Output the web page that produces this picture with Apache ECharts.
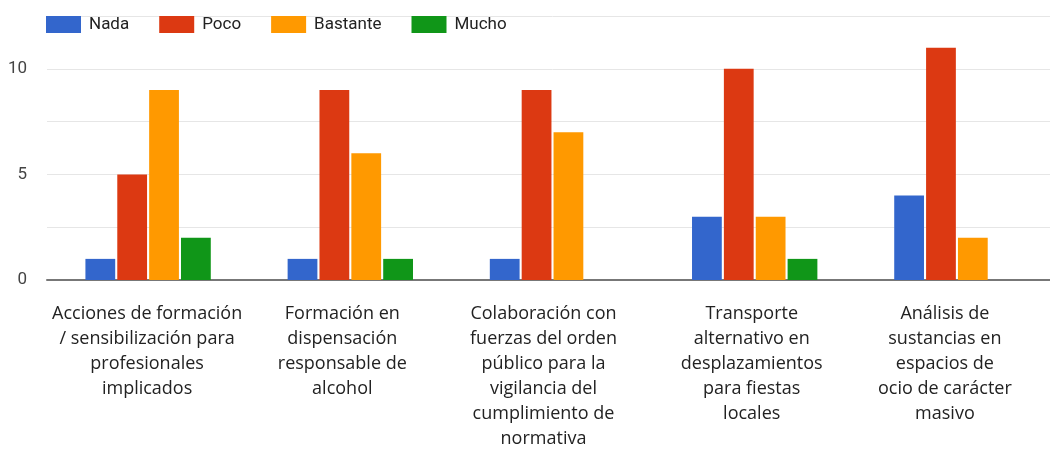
<!DOCTYPE html>
<html>
<head>
<meta charset="utf-8">
<script src="https://cdn.jsdelivr.net/npm/echarts@6/dist/echarts.min.js"></script>
<style>
  html, body { margin: 0; padding: 0; background: #fff; overflow: hidden; }
  /* a bit wider than the window: the last category runs past the right edge */
  #chart { width: 1070px; height: 451px; }
</style>
</head>
<body>
<div id="chart"></div>
<script>
var categories = [
    'Acciones de formación\n/ sensibilización para\nprofesionales\nimplicados',
    'Formación en\ndispensación\nresponsable de\nalcohol',
    'Colaboración con\nfuerzas del orden\npúblico para la\nvigilancia del\ncumplimiento de\nnormativa',
    'Transporte\nalternativo en\ndesplazamientos\npara fiestas\nlocales',
    'Análisis de\nsustancias en\nespacios de\nocio de carácter\nmasivo'
];
// small shifts so the wrapped labels sit like in the original
var labelShift = [-1, -8, -9, -3, -12];
var nada = [1, 1, 1, 3, 4];
var poco = [5, 9, 9, 10, 11];
var bastante = [9, 6, 7, 3, 2];
var mucho = [2, 1, 0, 1, 0];

var chart = echarts.init(document.getElementById('chart'));

var xData = categories.map(function (c, i) {
    var s = labelShift[i];
    return {
        value: c,
        textStyle: {
            padding: s < 0 ? [0, -2 * s, 0, 0] : [0, 0, 0, 2 * s]
        }
    };
});

function bar(name, data, color) {
    return {
        name: name,
        type: 'bar',
        data: data,
        itemStyle: { color: color },
        barGap: '7%',
        barCategoryGap: '38%'
    };
}

option = {
    animation: false,
    legend: {
        left: 46,
        top: 16,
        padding: 0,
        itemWidth: 35,
        itemHeight: 17,
        itemGap: 30,
        icon: 'rect',
        textStyle: {
            fontFamily: 'Roboto',
            fontSize: 17,
            color: '#222',
            padding: [0, 0, 0, 3]
        }
    },
    grid: {
        left: 47,
        top: 16,
        height: 268,
        width: 1011,
        containLabel: false
    },
    xAxis: {
        type: 'category',
        data: xData,
        axisTick: { show: false },
        axisLine: { lineStyle: { color: '#777', width: 2 } },
        axisLabel: {
            interval: 0,
            margin: 21,
            fontFamily: 'Open Sans',
            fontSize: 18,
            lineHeight: 25,
            color: '#222',
            align: 'center'
        }
    },
    yAxis: {
        type: 'value',
        min: 0,
        max: 12.5,
        interval: 2.5,
        axisLine: { show: false },
        axisTick: { show: false },
        splitLine: { lineStyle: { color: '#e6e6e6', width: 1 } },
        axisLabel: {
            margin: 20,
            fontFamily: 'Roboto',
            fontSize: 17,
            color: '#444',
            formatter: function (v) {
                return v % 5 === 0 ? String(v) : '';
            }
        }
    },
    series: [
        bar('Nada', nada, '#3366cc'),
        bar('Poco', poco, '#dc3912'),
        bar('Bastante', bastante, '#ff9900'),
        bar('Mucho', mucho, '#109618')
    ]
};
chart.setOption(option);
</script>
</body>
</html>
